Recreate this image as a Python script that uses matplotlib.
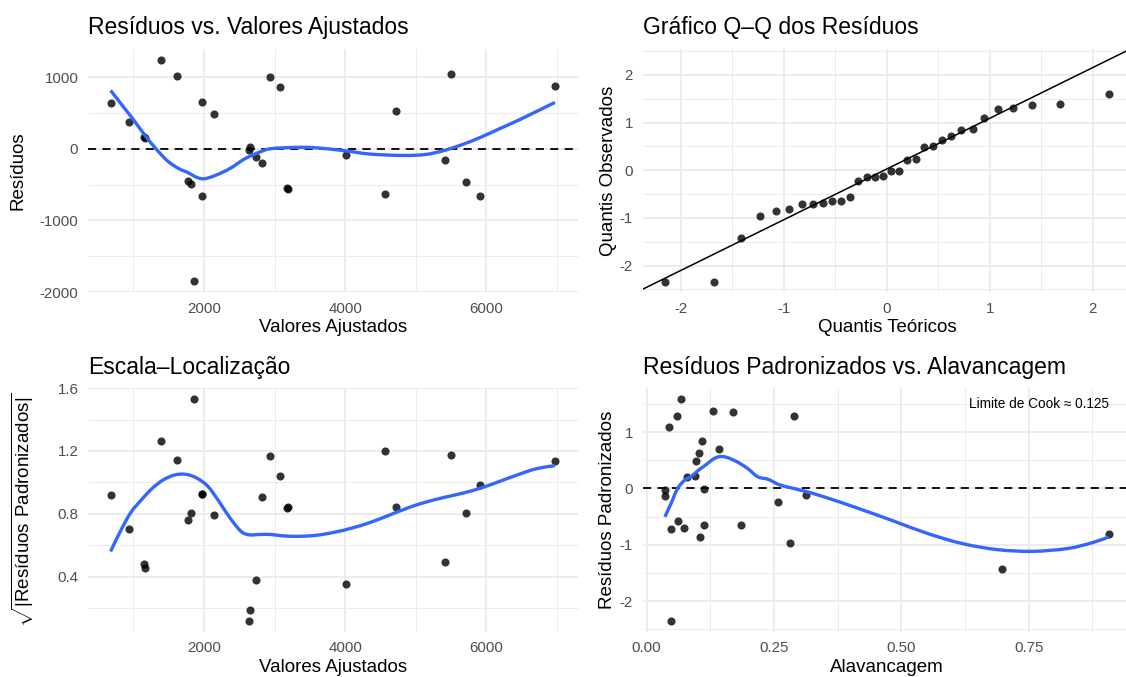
import matplotlib
matplotlib.use('Agg')
import matplotlib.pyplot as plt
from matplotlib.path import Path
from matplotlib.patches import PathPatch

plt.rcParams['font.family'] = ['Liberation Sans', 'DejaVu Sans']
plt.rcParams['mathtext.fontset'] = 'custom'
plt.rcParams['mathtext.rm'] = 'Liberation Sans'
plt.rcParams['axes.unicode_minus'] = False

# residuos vs ajustados / escala-localizacao (mesmos valores ajustados)
fitted = [678, 944, 1153, 1169, 1388, 1619, 1770, 1812, 1859, 1979, 1979, 2146, 2643, 2648,
          2737, 2826, 2931, 3082, 3172, 3188, 4013, 4568, 4719, 5409, 5503, 5707, 5906, 6977]
resid = [642, 371, 158, 150, 1241, 1013, -447, -489, -1846, 646, -656, 483, -14, 25,
         -112, -200, 1004, 855, -549, -563, -89, -633, 525, -163, 1041, -465, -665, 873]
sqrt_std = [0.919, 0.703, 0.477, 0.452, 1.263, 1.140, 0.757, 0.802, 1.528, 0.925, 0.925, 0.794, 0.120, 0.187,
            0.375, 0.906, 1.169, 1.042, 0.836, 0.843, 0.352, 1.197, 0.840, 0.490, 1.176, 0.802, 0.985, 1.133]

# curvas loess
smooth1_x = [678, 855, 1012, 1169, 1325, 1482, 1639, 1770, 1900, 2005, 2162, 2371, 2580, 2790, 2947,
             3313, 3575, 3993, 4358, 4829, 5142, 5404, 5665, 5927, 6188, 6450, 6711, 6972]
smooth1_y = [813, 590, 391, 181, -5, -168, -275, -331, -400, -419, -372, -275, -140, -47, 0,
             19, 14, -28, -75, -94, -80, -24, 60, 162, 279, 395, 520, 646]
smooth3_x = [678, 804, 960, 1117, 1274, 1430, 1587, 1744, 1900, 2057, 2214, 2371, 2528, 2643, 2790,
             2947, 3103, 3313, 3575, 3837, 4098, 4358, 4620, 4881, 5142, 5404, 5665, 5927, 6188, 6450,
             6711, 6972]
smooth3_y = [0.560, 0.677, 0.805, 0.890, 0.964, 1.017, 1.047, 1.051, 1.027, 0.974, 0.878, 0.772, 0.687,
             0.666, 0.668, 0.668, 0.660, 0.656, 0.662, 0.681, 0.709, 0.745, 0.790, 0.836, 0.874, 0.904,
             0.931, 0.964, 1.006, 1.049, 1.087, 1.106]

# grafico Q-Q
theo_q = [-2.155, -1.677, -1.418, -1.229, -1.077, -0.946, -0.828, -0.720, -0.623, -0.532, -0.444,
          -0.360, -0.276, -0.195, -0.114, -0.037, 0.044, 0.121, 0.199, 0.279, 0.360, 0.444, 0.532,
          0.626, 0.724, 0.832, 0.946, 1.077, 1.229, 1.414, 1.677, 2.155]
obs_q = [-2.337, -2.337, -1.417, -0.968, -0.856, -0.814, -0.708, -0.708, -0.694, -0.638, -0.638,
         -0.568, -0.231, -0.133, -0.133, -0.112, -0.021, -0.007, 0.204, 0.239, 0.492, 0.499, 0.640,
         0.709, 0.850, 0.864, 1.088, 1.292, 1.298, 1.369, 1.390, 1.600]
qq_intercept = 0.026
qq_slope = 1.0645

# residuos padronizados vs alavancagem
lev = [0.036, 0.036, 0.044, 0.048, 0.048, 0.059, 0.061, 0.067, 0.073, 0.080, 0.095, 0.097, 0.102,
       0.104, 0.108, 0.112, 0.112, 0.131, 0.142, 0.170, 0.186, 0.257, 0.281, 0.290, 0.313, 0.698, 0.907]
std_res = [-0.03, -0.137, 1.083, -0.717, -2.345, 1.290, -0.575, 1.586, -0.699, 0.2, 0.213, 0.49, 0.627,
           -0.859, 0.846, -0.012, -0.64, 1.379, 0.698, 1.361, -0.64, -0.237, -0.971, 1.284, -0.125,
           -1.433, -0.817]
smooth4_x = [0.036, 0.048, 0.061, 0.075, 0.089, 0.102, 0.116, 0.130, 0.143, 0.157, 0.177, 0.198, 0.218,
             0.239, 0.259, 0.280, 0.307, 0.348, 0.416, 0.484, 0.552, 0.620, 0.689, 0.757, 0.825, 0.873, 0.907]
smooth4_y = [-0.504, -0.267, 0.0, 0.148, 0.220, 0.326, 0.415, 0.516, 0.564, 0.552, 0.475, 0.356, 0.208,
             0.160, 0.071, 0.018, -0.042, -0.148, -0.356, -0.576, -0.801, -0.979, -1.086, -1.116, -1.068,
             -0.967, -0.861]
cook_label = 'Limite de Cook ≈ 0.125'

BLUE = '#3366FF'
TICK_COL = '#4D4D4D'
GRID_COL = '#EBEBEB'

fig = plt.figure(figsize=(11.26, 6.77), dpi=100)
ax1 = fig.add_axes([0.07815, 0.56839, 0.43517, 0.35968])
ax2 = fig.add_axes([0.57078, 0.56839, 0.43366, 0.35968])
ax3 = fig.add_axes([0.07815, 0.06706, 0.43517, 0.35968])
ax4 = fig.add_axes([0.57078, 0.06706, 0.43366, 0.35968])


def style(ax, xmaj, xmin, ymaj, ymin, xlim, ylim):
    ax.set_xlim(*xlim)
    ax.set_ylim(*ylim)
    ax.set_xticks(xmaj)
    ax.set_xticks(xmin, minor=True)
    ax.set_yticks(ymaj)
    ax.set_yticks(ymin, minor=True)
    ax.grid(which='major', color=GRID_COL, linewidth=1.3)
    ax.grid(which='minor', color=GRID_COL, linewidth=0.65)
    ax.set_axisbelow(True)
    for s in ax.spines.values():
        s.set_visible(False)
    ax.tick_params(which='both', length=0, pad=7, labelsize=10.8, labelcolor=TICK_COL)


def pts(ax, x, y):
    ax.scatter(x, y, s=34, color='black', alpha=0.8, linewidths=0, zorder=3)


def dashed_zero(ax):
    ax.axhline(0, color='black', linewidth=1.3, dashes=(4.5, 3.5), zorder=2)


def smooth_line(ax, xs, ys):
    # desenha a curva passando pelos pontos lidos, com segmentos bezier (catmull-rom)
    verts = [(xs[0], ys[0])]
    codes = [Path.MOVETO]
    n = len(xs)
    for i in range(n - 1):
        x0, y0 = (xs[i - 1], ys[i - 1]) if i > 0 else (xs[i], ys[i])
        x1, y1 = xs[i], ys[i]
        x2, y2 = xs[i + 1], ys[i + 1]
        x3, y3 = (xs[i + 2], ys[i + 2]) if i + 2 < n else (x2, y2)
        verts += [(x1 + (x2 - x0) / 6, y1 + (y2 - y0) / 6),
                  (x2 - (x3 - x1) / 6, y2 - (y3 - y1) / 6),
                  (x2, y2)]
        codes += [Path.CURVE4] * 3
    ax.add_patch(PathPatch(Path(verts, codes), facecolor='none', edgecolor=BLUE,
                           linewidth=2.4, zorder=4, capstyle='butt'))


# painel 1
style(ax1, [2000, 4000, 6000], [1000, 3000, 5000, 7000],
      [-2000, -1000, 0, 1000], [-1500, -500, 500], (358, 7299), (-2001, 1395))
dashed_zero(ax1)
pts(ax1, fitted, resid)
smooth_line(ax1, smooth1_x, smooth1_y)
ax1.set_title('Resíduos vs. Valores Ajustados', loc='left', fontsize=16.5, pad=10.5)
ax1.set_xlabel('Valores Ajustados', fontsize=13.5, labelpad=2.5)
ax1.set_ylabel('Resíduos', fontsize=13.5)
ax1.yaxis.set_label_coords(-0.1249, 0.5)

# painel 2
style(ax2, [-2, -1, 0, 1, 2], [-1.5, -0.5, 0.5, 1.5],
      [-2, -1, 0, 1, 2], [-2.5, -1.5, -0.5, 0.5, 1.5, 2.5], (-2.3705, 2.3705), (-2.56, 2.55))
ax2.axline((0, qq_intercept), slope=qq_slope, color='black', linewidth=1.1, zorder=2)
pts(ax2, theo_q, obs_q)
ax2.set_title('Gráfico Q–Q dos Resíduos', loc='left', fontsize=16.5, pad=10.5)
ax2.set_xlabel('Quantis Teóricos', fontsize=13.5, labelpad=2.5)
ax2.set_ylabel('Quantis Observados', fontsize=13.5)
ax2.yaxis.set_label_coords(-0.0526, 0.5)

# painel 3
style(ax3, [2000, 4000, 6000], [1000, 3000, 5000, 7000],
      [0.4, 0.8, 1.2, 1.6], [0.2, 0.6, 1.0, 1.4], (358, 7299), (0.0496, 1.598))
ax3.set_yticklabels(['0.4', '0.8', '1.2', '1.6'])
pts(ax3, fitted, sqrt_std)
smooth_line(ax3, smooth3_x, smooth3_y)
ax3.set_title('Escala–Localização', loc='left', fontsize=16.5, pad=10.5)
ax3.set_xlabel('Valores Ajustados', fontsize=13.5, labelpad=2.5)
ax3.set_ylabel(r'$\sqrt{|\mathrm{Resíduos\ Padronizados}|}$', fontsize=13.5)
ax3.yaxis.set_label_coords(-0.1069, 0.5)

# painel 4
style(ax4, [0, 0.25, 0.5, 0.75], [0.125, 0.375, 0.625, 0.875],
      [-2, -1, 0, 1], [-2.5, -1.5, -0.5, 0.5, 1.5], (-0.0076, 0.9506), (-2.54, 1.78))
ax4.set_xticklabels(['0.00', '0.25', '0.50', '0.75'])
dashed_zero(ax4)
pts(ax4, lev, std_res)
smooth_line(ax4, smooth4_x, smooth4_y)
ax4.text(0.907, 1.49, cook_label, ha='right', va='center', fontsize=9.8, color='black')
ax4.set_title('Resíduos Padronizados vs. Alavancagem', loc='left', fontsize=16.5, pad=10.5)
ax4.set_xlabel('Alavancagem', fontsize=13.5, labelpad=2.5)
ax4.set_ylabel('Resíduos Padronizados', fontsize=13.5)
ax4.yaxis.set_label_coords(-0.0549, 0.5)

fig.savefig('out.png', dpi=100, facecolor='white')
